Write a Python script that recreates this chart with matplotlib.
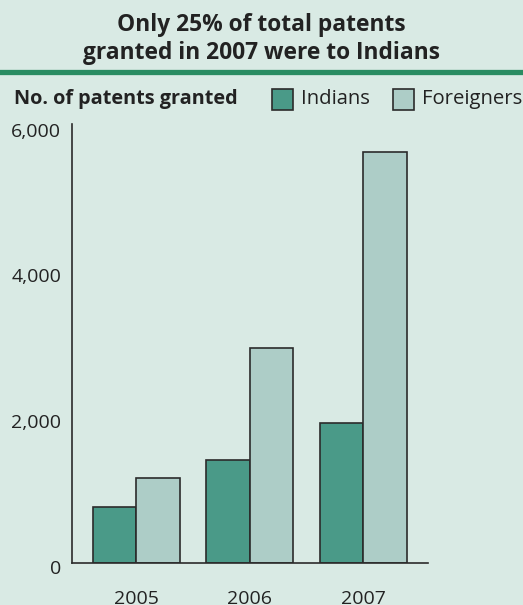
import matplotlib.pyplot as plt
import matplotlib.transforms as mtransforms
import numpy as np

years = ["2005", "2006", "2007"]
indians = [760, 1410, 1920]
foreigners = [1160, 2940, 5640]
yticks = [0, 2000, 4000, 6000]
ytick_labels = ["0", "2,000", "4,000", "6,000"]

bg = "#d9eae4"
dark = "#4a9a88"
light = "#adcdc7"
edge = "#2b2b2b"
txt = "#222222"

plt.rcParams['font.family'] = ['Open Sans', 'DejaVu Sans']

fig = plt.figure(figsize=(5.23, 6.05), dpi=100, facecolor=bg)
ax = fig.add_axes([0.137, 0.0699, 0.681, 0.725], facecolor=bg)

x = np.arange(len(years))
w = 0.383
ax.bar(x - w/2, indians, w, color=dark, edgecolor=edge, linewidth=1.2)
ax.bar(x + w/2, foreigners, w, color=light, edgecolor=edge, linewidth=1.2)

ax.set_xlim(-0.57, 2.567)
ax.set_ylim(0, 6020)
ax.set_yticks(yticks)
ax.set_yticklabels(ytick_labels)
ax.set_xticks(x)
ax.set_xticklabels(years)
ax.tick_params(length=0, labelsize=14, colors=txt)
ax.tick_params(axis='y', pad=7.5)
ax.tick_params(axis='x', pad=20)
for side in ["top", "right"]:
    ax.spines[side].set_visible(False)
for side in ["left", "bottom"]:
    ax.spines[side].set_color(edge)
    ax.spines[side].set_linewidth(1.2)

# y tick labels sit a little below their values
offset = mtransforms.ScaledTranslation(0, -3/72, fig.dpi_scale_trans)
for lab in ax.get_yticklabels():
    lab.set_transform(lab.get_transform() + offset)

# title and rule
fig.text(0.5, 0.978, "Only 25% of total patents\ngranted in 2007 were to Indians",
         ha="center", va="top", fontsize=16.4, fontweight="bold",
         color=txt, linespacing=1.2)
fig.add_artist(plt.Line2D([0, 1], [1 - 72/605, 1 - 72/605], color="#2a8c62",
                          linewidth=3.8, transform=fig.transFigure))

fig.text(14/523, 1 - 99/605, "No. of patents granted", ha="left", va="center",
         fontsize=14.3, fontweight="bold", color=txt)

# legend
for x0, col, name in [(272, dark, "Indians"), (393, light, "Foreigners")]:
    fig.add_artist(plt.Rectangle((x0/523, 1 - 110/605), 21/523, 21/605,
                                 facecolor=col, edgecolor=edge, linewidth=1.2,
                                 transform=fig.transFigure))
    fig.text((x0 + 29)/523, 1 - 99/605, name, ha="left", va="center",
             fontsize=14.6, color=txt)

fig.savefig("out.png", dpi=100, facecolor=bg)
